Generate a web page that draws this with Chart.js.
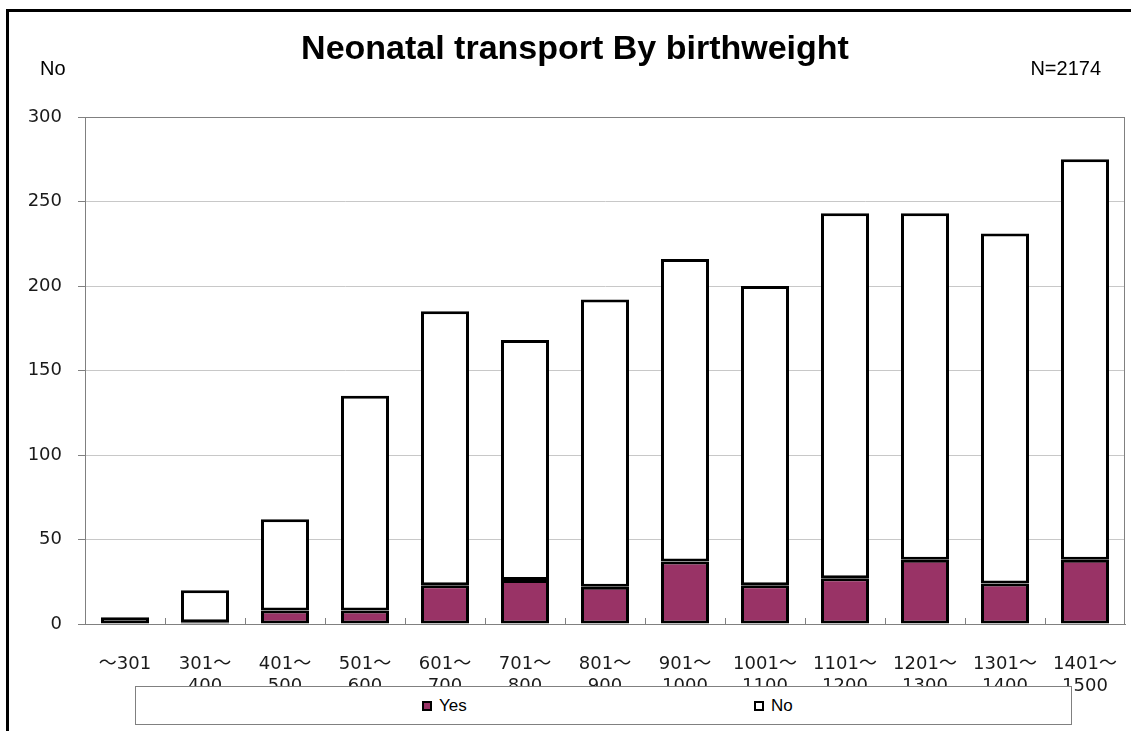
<!DOCTYPE html>
<html>
<head>
<meta charset="utf-8">
<script src="https://cdn.jsdelivr.net/npm/chart.js@4/dist/chart.umd.min.js"></script>
<style>
  html, body { margin: 0; padding: 0; background: #fff; }
  #wrap { position: relative; width: 1131px; height: 731px; overflow: hidden; }
  #c { position: absolute; left: 0; top: 0; }
  #frame { position: absolute; left: 6px; top: 9px; width: 1200px; height: 800px;
           border-top: 3px solid #000; border-left: 3px solid #000; pointer-events: none; }
  #legend { position: absolute; left: 135px; top: 686px; width: 935px; height: 37px;
            border: 1px solid #808080; background: #fff; font-family: 'Liberation Sans', Arial, sans-serif;
            font-size: 17px; color: #000; }
  .item { position: absolute; top: 9px; display: flex; align-items: center; height: 20px; }
  .mark { width: 6px; height: 6px; border: 2px solid #000; margin-right: 7px; }
</style>
</head>
<body>
<div id="wrap">
  <canvas id="c" width="1131" height="731"></canvas>
  <div id="frame"></div>
  <div id="legend"></div>
</div>
<script>
const titleText = 'Neonatal transport By birthweight';
const yAxisTitle = 'No';
const noteText = 'N=2174';
const categories = [
  ['～301'], ['301～', '400'], ['401～', '500'], ['501～', '600'], ['601～', '700'],
  ['701～', '800'], ['801～', '900'], ['901～', '1000'], ['1001～', '1100'],
  ['1101～', '1200'], ['1201～', '1300'], ['1301～', '1400'], ['1401～', '1500']
];
const seriesNames = ['Yes', 'No'];
const yesValues = [0, 1, 8, 8, 23, 26, 22, 37, 23, 27, 38, 24, 38];
const noValues  = [4, 19, 54, 127, 162, 142, 170, 179, 177, 216, 205, 207, 237];
const yesColor = '#993366';
const noColor = '#ffffff';

const tickFont = { family: "'DejaVu Sans', 'Noto Sans CJK JP', sans-serif", size: 18 };

const decorPlugin = {
  id: 'decor',
  afterDraw(chart) {
    const ctx = chart.ctx;
    const a = chart.chartArea;
    const xs = chart.scales.x;
    ctx.save();
    ctx.strokeStyle = '#808080';
    ctx.lineWidth = 1;
    for (let i = 1; i < categories.length; i++) {
      const x = Math.round((xs.getPixelForValue(i - 1) + xs.getPixelForValue(i)) / 2) + 0.5;
      ctx.beginPath();
      ctx.moveTo(x, a.bottom - 6);
      ctx.lineTo(x, a.bottom);
      ctx.stroke();
    }
    ctx.strokeRect(Math.round(a.left) + 0.5, Math.round(a.top) + 0.5,
                   Math.round(a.right - a.left) - 1, Math.round(a.bottom - a.top));
    ctx.fillStyle = '#000';
    ctx.textBaseline = 'middle';
    ctx.textAlign = 'center';
    ctx.font = "bold 34px 'Liberation Sans', Arial, sans-serif";
    ctx.fillText(titleText, 575, 50);
    ctx.font = "20px 'Liberation Sans', Arial, sans-serif";
    ctx.textAlign = 'left';
    ctx.fillText(yAxisTitle, 40, 69);
    ctx.textAlign = 'right';
    ctx.fillText(noteText, 1101, 69);
    ctx.restore();
  }
};

const chart = new Chart(document.getElementById('c'), {
  type: 'bar',
  data: {
    labels: categories,
    datasets: [
      { label: seriesNames[0], data: yesValues, backgroundColor: yesColor, borderColor: '#000',
        borderWidth: 3, borderSkipped: false, barPercentage: 0.6, categoryPercentage: 1.0 },
      { label: seriesNames[1], data: noValues, backgroundColor: noColor, borderColor: '#000',
        borderWidth: 3, borderSkipped: false, barPercentage: 0.6, categoryPercentage: 1.0 }
    ]
  },
  options: {
    responsive: false,
    animation: false,
    devicePixelRatio: 1,
    layout: { padding: { left: 0, top: 117, right: 6, bottom: 0 } },
    plugins: { legend: { display: false }, title: { display: false }, tooltip: { enabled: false } },
    scales: {
      x: {
        stacked: true,
        grid: { display: false },
        border: { display: true, color: '#808080' },
        ticks: { font: tickFont, color: '#1a1a1a', padding: 22, maxRotation: 0, autoSkip: false },
        afterFit(s) { s.height = 107; s.paddingLeft = 0; s.paddingRight = 0; }
      },
      y: {
        stacked: true,
        min: 0, max: 300,
        grid: { color: '#c8c8c8', tickLength: 7, tickColor: '#808080', drawTicks: true },
        border: { display: true, color: '#808080' },
        ticks: { stepSize: 50, font: tickFont, color: '#1a1a1a', padding: 16 },
        afterFit(s) { s.width = 85; s.paddingTop = 0; s.paddingBottom = 0; }
      }
    }
  },
  plugins: [decorPlugin]
});

const legend = document.getElementById('legend');
const legendOffsets = [286, 618];
chart.data.datasets.forEach((ds, i) => {
  const it = document.createElement('div');
  it.className = 'item';
  it.style.left = legendOffsets[i] + 'px';
  const m = document.createElement('span');
  m.className = 'mark';
  m.style.background = ds.backgroundColor;
  const t = document.createElement('span');
  t.textContent = ds.label;
  it.appendChild(m); it.appendChild(t);
  legend.appendChild(it);
});
</script>
</body>
</html>
